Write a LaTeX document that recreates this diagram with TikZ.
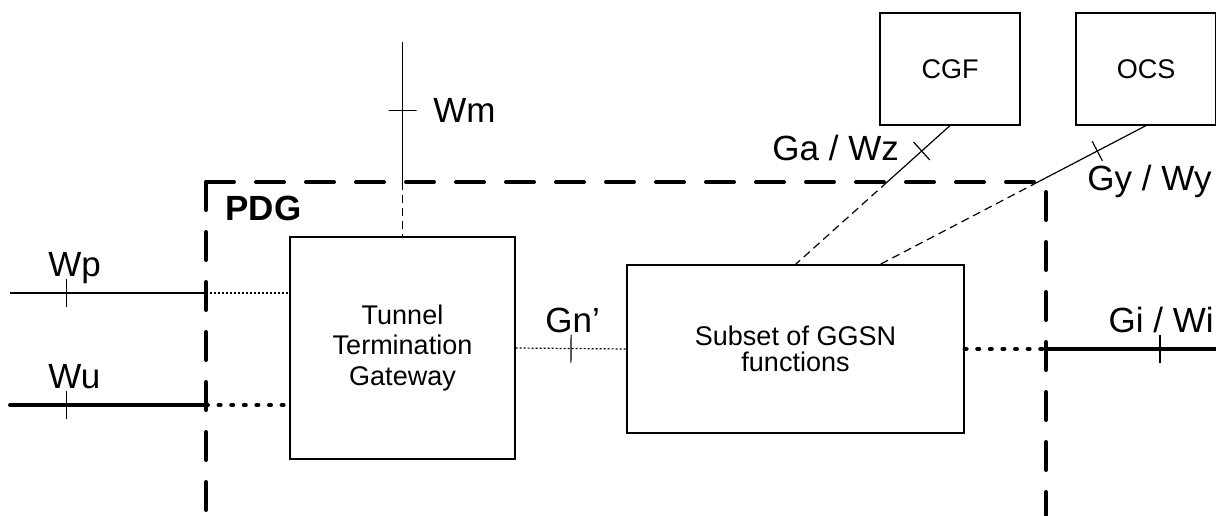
\documentclass[tikz,border=0pt]{standalone}
\usepackage{fontspec}
\setmainfont{Liberation Sans}
\usetikzlibrary{calc,positioning}

\begin{document}
\begin{tikzpicture}[x=0.5pt,y=-0.5pt,
    thinline/.style={line width=0.6pt},
    thickline/.style={line width=2pt,line cap=round},
    finedots/.style={line width=0.6pt,dash pattern=on 1pt off 1pt},
    fatdots/.style={line width=2pt,line cap=round,dash pattern=on 1pt off 5.3pt},
    thindash/.style={line width=0.6pt,dash pattern=on 4pt off 2.5pt},
    pdgline/.style={line width=2pt,line cap=round,dash pattern=on 14pt off 11pt},
    box/.style={draw,line width=0.6pt,align=center,inner sep=0pt,font=\fontsize{13.5}{13}\selectfont},
    tick/.style={draw,solid,line width=0.6pt,sloped,inner sep=0pt,minimum width=0pt,minimum height=14pt},
    lab/.style={anchor=base west,inner sep=0pt,font=\fontsize{17.5}{20}\selectfont}]
    \useasboundingbox (0,0) rectangle (1216,515);

    % boxes
    \node[box,minimum width=112.5pt,minimum height=111pt] (tunnel) at (402.5,348) {Tunnel\\[2.2pt]Termination\\[2.2pt]Gateway};
    \node[box,minimum width=168.5pt,minimum height=84pt] (subset) at (795.5,349) {Subset of GGSN\\functions};
    \node[box,minimum width=70pt,minimum height=56pt] (cgf) at (950,69) {CGF};
    \node[box,minimum width=70pt,minimum height=56pt] (ocs) at (1146,69) {OCS};

    % PDG border
    \coordinate (pdgtl) at (206,182);
    \coordinate (pdgbl) at (206,515);
    \coordinate (pdgtr) at (1046,182);
    \coordinate (pdgbr) at (1046,515);
    \draw[pdgline] (pdgtl) -- (pdgbl);
    \draw[pdgline] (pdgtl) -- (pdgtr) -- (pdgbr);
    \node[lab,font=\fontsize{17.5}{20}\selectfont\bfseries] (pdglab) at (225,220) {PDG};

    % Wp, Wu
    \coordinate (wpend) at (10,293);
    \coordinate (wpedge) at (206,293);
    \draw[thinline] (wpend) -- node[tick,pos=0.29]{} (wpedge);
    \draw[finedots] (wpedge) -- (tunnel.west |- wpedge);
    \coordinate (wuend) at (10,405);
    \coordinate (wuedge) at (206,405);
    \draw[thickline] (wuend) -- node[tick,pos=0.29]{} (wuedge);
    \draw[fatdots] (wuedge) -- (tunnel.west |- wuedge);
    \node[lab] (wplab) at (48,276) {Wp};
    \node[lab] (wulab) at (48,388) {Wu};

    % Wm
    \coordinate (wmend) at (402.5,42);
    \coordinate (wmedge) at (402.5,182);
    \draw[thinline] (wmend) -- node[tick,pos=0.49]{} (wmedge);
    \draw[thindash] (wmedge) -- (tunnel.north);
    \node[lab] (wmlab) at (433,122) {Wm};

    % Gn'
    \draw[finedots] (tunnel.east) -- node[tick,pos=0.5]{} (subset.west);
    \node[lab] (gnlab) at (545,332) {Gn’};

    % Gi / Wi
    \coordinate (giedge) at (1046,349);
    \coordinate (giend) at (1216,349);
    \draw[fatdots] (subset.east) -- (giedge);
    \draw[thickline] (giedge) -- node[tick,pos=0.67]{} (giend);
    \node[lab,anchor=base east] (gilab) at (1214,332) {Gi / Wi};

    % Ga / Wz
    \coordinate (gacut) at ($(cgf.south)!0.407!(subset.north)$);
    \draw[thinline] (cgf.south) -- node[tick,pos=0.45,minimum height=12pt]{} (gacut);
    \draw[thindash] (gacut) -- (subset.north);
    \node[lab] (galab) at (772,160) {Ga / Wz};

    % Gy / Wy
    \coordinate (gyend) at ($(subset.north)!0.5!(subset.north east)$);
    \coordinate (gycut) at ($(ocs.south)!0.407!(gyend)$);
    \draw[thinline] (ocs.south) -- node[tick,pos=0.45,minimum height=11pt]{} (gycut);
    \draw[thindash] (gycut) -- (gyend);
    \node[lab] (gylab) at (1087,190) {Gy / Wy};
\end{tikzpicture}
\end{document}
